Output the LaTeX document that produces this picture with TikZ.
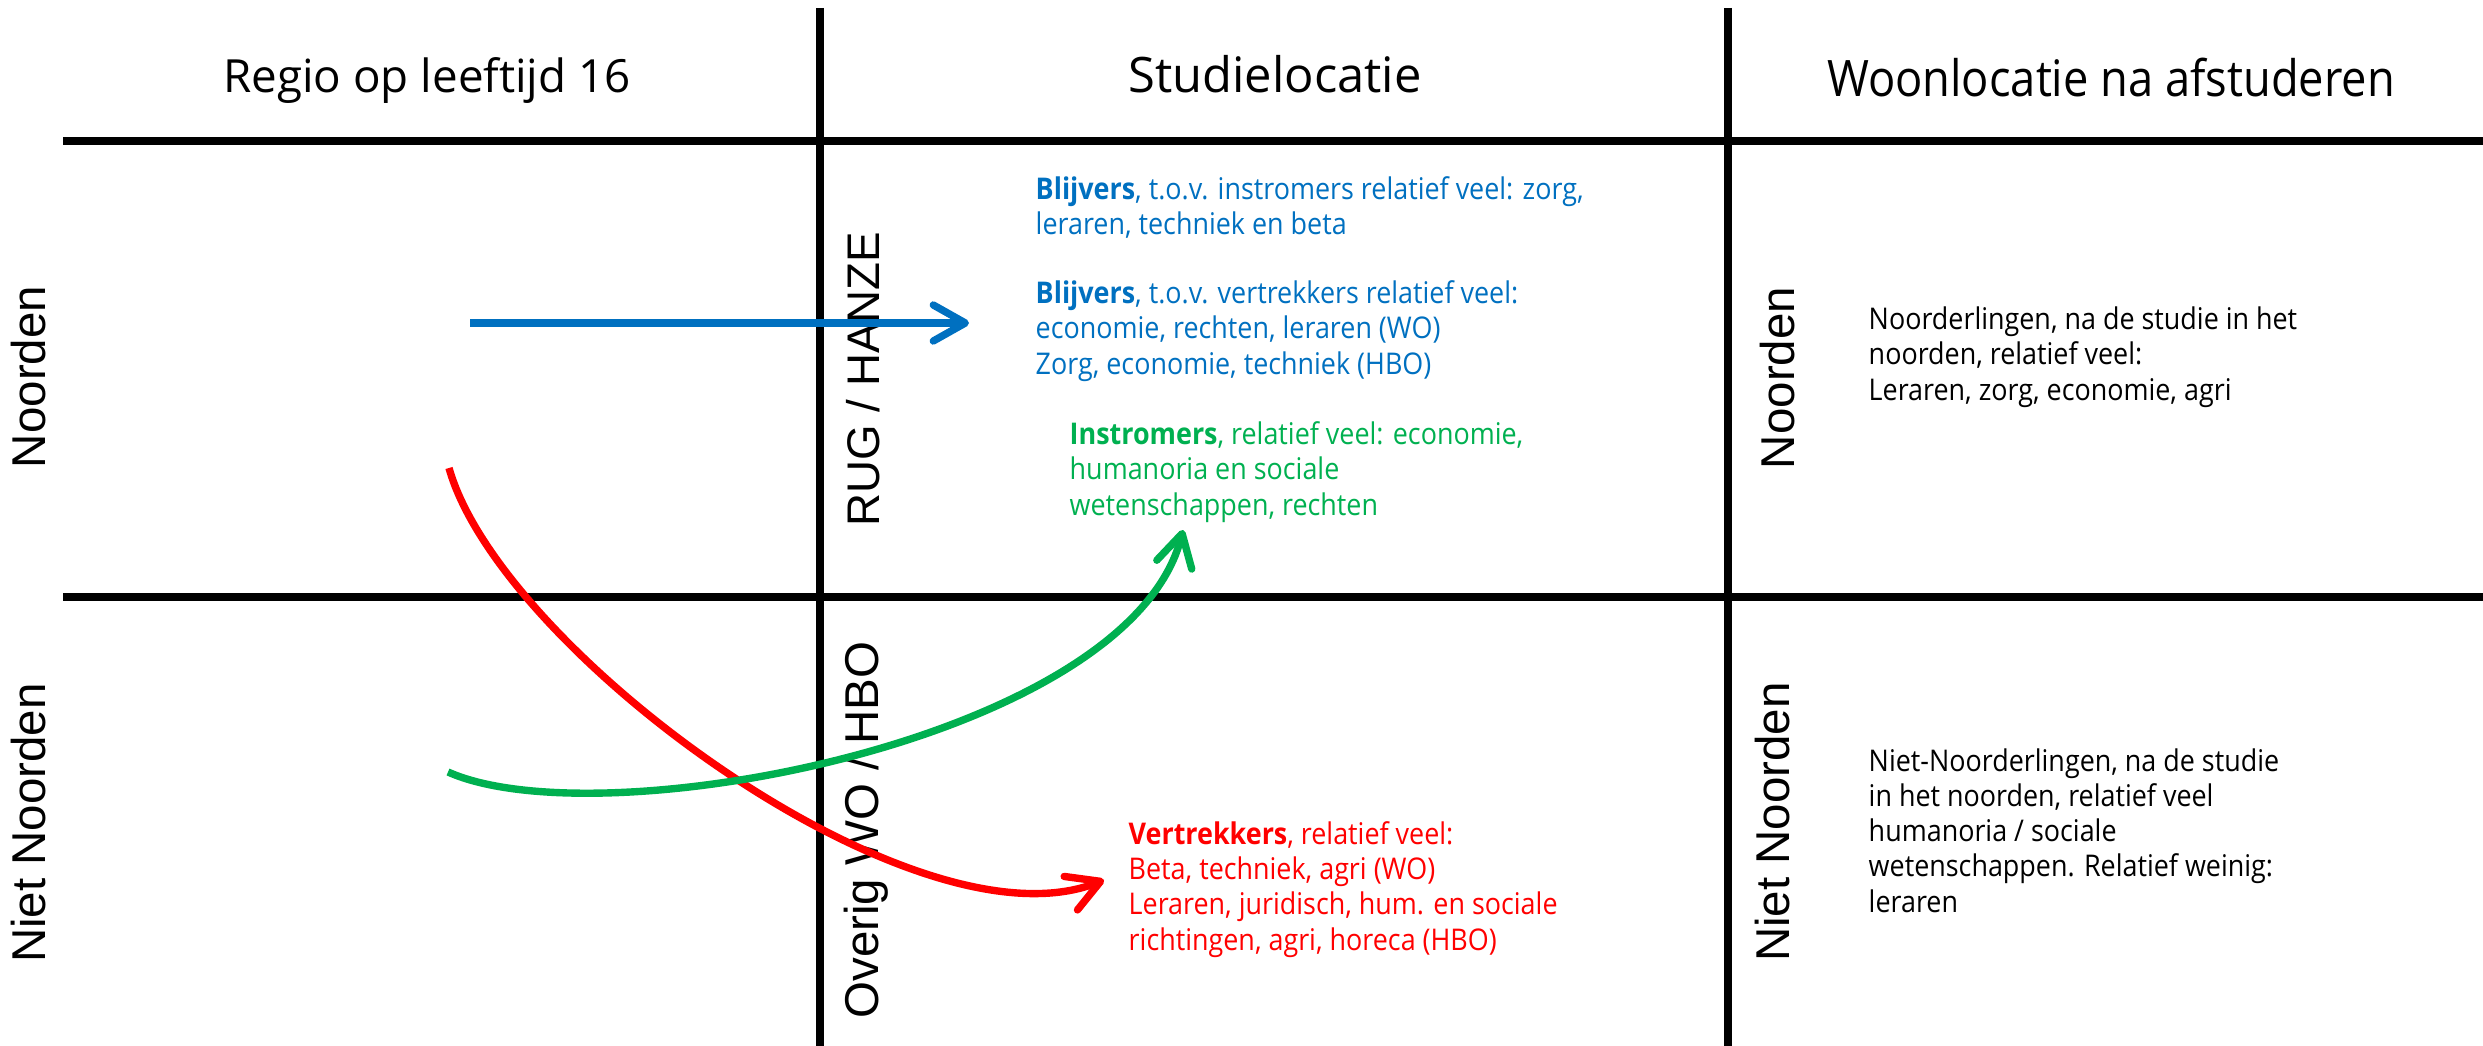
\documentclass[tikz,border=0pt]{standalone}
\usepackage{fontspec}
\setmainfont{Open Sans}
\setsansfont{Liberation Sans}
\newfontfamily\narrowfont{Open Sans}[FakeStretch=0.9]
\usetikzlibrary{arrows.meta}

\definecolor{flowblue}{HTML}{0070C0}
\definecolor{flowgreen}{HTML}{00B050}
\definecolor{flowred}{HTML}{FF0000}

\begin{document}
\begin{tikzpicture}[x=0.01cm, y=-0.01cm, >={Straight Barb[length=3.2mm, width=3.6mm, round]}]
	% --- Maten (in pixels) ---
	\def\picW{2483}
	\def\picH{1046}
	\def\colA{820}
	\def\colB{1728}
	\def\rowA{141}
	\def\rowB{597}
	\def\lineL{63}
	
	% --- Stijlen ---
	\tikzset{
		divider/.style={draw=black, line width=2.3pt},
		flow/.style={->, line width=2.1pt},
		colhead/.style={anchor=base, inner sep=0pt, font=\fontsize{13}{16}\selectfont},
		rowlabel/.style={rotate=90, anchor=base, inner sep=0pt, font=\sffamily\fontsize{13.5}{16}\selectfont},
		% anker = basislijn van de laatste regel
		infotext/.style={anchor=base west, inner sep=0pt, align=left, font=\narrowfont\fontsize{8.5}{10}\selectfont}
	}
	
	\useasboundingbox (0,0) rectangle (\picW,\picH);
	
	% --- Raster ---
	\draw[divider] (\lineL,\rowA) -- (\picW,\rowA);
	\draw[divider] (\lineL,\rowB) -- (\picW,\rowB);
	\draw[divider] (\colA,8) -- (\colA,\picH);
	\draw[divider] (\colB,8) -- (\colB,\picH);
	
	% --- Kopjes ---
	\node[colhead] (regio) at (427,93) {Regio op leeftijd 16};
	\node[colhead, font=\fontsize{13.9}{16}\selectfont] (studie) at (1275,93) {Studielocatie};
	\node[colhead, font=\narrowfont\fontsize{14.3}{16}\selectfont] (woon) at (2111,97) {Woonlocatie na afstuderen};
	
	% --- Rijlabels ---
	\node[rowlabel] (noordL) at (45,377) {Noorden};
	\node[rowlabel] (nietL) at (45,823) {Niet Noorden};
	\node[rowlabel, font=\sffamily\fontsize{13}{16}\selectfont] (rug) at (879,379) {RUG / HANZE};
	\node[rowlabel] (overig) at (878,830) {Overig WO / HBO};
	\node[rowlabel] (noordR) at (1794,378) {Noorden};
	\node[rowlabel] (nietR) at (1789,822) {Niet Noorden};
	
	% --- Teksten ---
	\node[infotext, text=flowblue] (blijvA) at (1035,235) {\textbf{Blijvers}, t.o.v. instromers relatief veel: zorg,\\leraren, techniek en beta};
	\node[infotext, text=flowblue] (blijvB) at (1035,374) {\textbf{Blijvers}, t.o.v. vertrekkers relatief veel:\\economie, rechten, leraren (WO)\\Zorg, economie, techniek (HBO)};
	\node[infotext, text=flowgreen] (instr) at (1069,515) {\textbf{Instromers}, relatief veel: economie,\\humanoria en sociale\\wetenschappen, rechten};
	\node[infotext, text=flowred] (vertr) at (1128,950) {\textbf{Vertrekkers}, relatief veel:\\Beta, techniek, agri (WO)\\Leraren, juridisch, hum. en sociale\\richtingen, agri, horeca (HBO)};
	\node[infotext] (woonN) at (1868,400) {Noorderlingen, na de studie in het\\noorden, relatief veel:\\Leraren, zorg, economie, agri};
	\node[infotext] (woonZ) at (1868,912) {Niet-Noorderlingen, na de studie\\in het noorden, relatief veel\\humanoria / sociale\\wetenschappen. Relatief weinig:\\leraren};
	
	% --- Stromen ---
	\coordinate (blueFrom) at (470,323);
	\coordinate (blueTo) at (969,323);
	\coordinate (redFrom) at (449,468);
	\coordinate (redTo) at (1104,880);
	\coordinate (greenFrom) at (448,772);
	\coordinate (greenTo) at (1183,530);
	
	\draw[flow, flowblue] (blueFrom) -- (blueTo);
	\draw[flow, flowred] (redFrom) .. controls (500,650) and (915,955) .. (redTo);
	\draw[flow, flowgreen] (greenFrom) .. controls (600,840) and (1130,740) .. (greenTo);
\end{tikzpicture}
\end{document}
